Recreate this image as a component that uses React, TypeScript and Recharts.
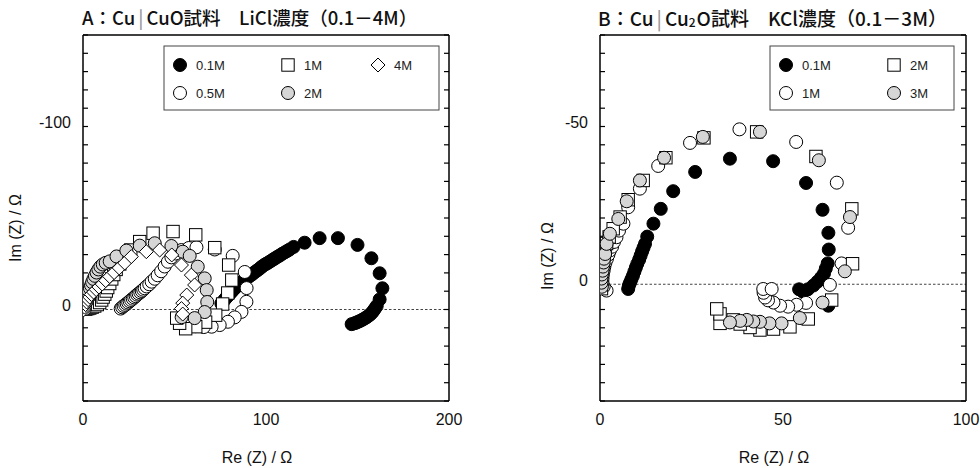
import React from 'react';
import { ScatterChart, Scatter, XAxis, YAxis, ReferenceLine } from 'recharts';

// ---------- Panel A : Cu|CuO, LiCl 0.1-4M  (Re, Im) ----------
const A_01M: [number, number][] = [
  [75.6, -3.3], [76.5, -4.3], [77.4, -5.4], [78.3, -6.5], [79.3, -7.6], [80.3, -8.7], [81.3, -9.8],
  [82.3, -10.9], [83.4, -12.0], [84.5, -13.0], [85.6, -13.9], [86.7, -14.9], [87.8, -15.8], [88.9, -16.7],
  [90.0, -17.5], [91.1, -18.3], [92.2, -19.1], [93.3, -20.0], [94.4, -20.8], [95.5, -21.6], [96.6, -22.4],
  [97.6, -23.3], [98.7, -24.1], [99.8, -24.8], [100.9, -25.4], [102.0, -26.1], [103.1, -26.8], [104.2, -27.5],
  [105.3, -28.2], [106.4, -28.9], [107.5, -29.5], [108.8, -30.4], [110.2, -31.2], [111.6, -32.0],
  [112.9, -32.8], [115.1, -34.2], [121.1, -36.5], [129.3, -39.0], [139.3, -39.0], [150.0, -35.3],
  [157.6, -28.0], [162.1, -19.8], [163.6, -11.6], [162.1, -5.5], [160.5, -1.9], [159.6, -0.6], [158.8, 0.6],
  [158.0, 1.6], [157.2, 2.5], [156.1, 3.4], [155.0, 4.2], [153.9, 4.9], [152.8, 5.5], [151.7, 6.1],
  [150.6, 6.6], [149.5, 7.1], [148.4, 7.5], [146.8, 8.0],
];
const A_05M: [number, number][] = [
  [20.6, -0.5], [21.4, -1.2], [22.2, -1.9], [23.1, -2.5], [23.9, -3.2], [24.7, -3.8], [25.5, -4.5],
  [26.3, -5.2], [27.2, -5.9], [28.0, -6.6], [28.8, -7.3], [29.6, -8.1], [30.4, -8.7], [31.3, -9.4],
  [32.1, -10.1], [32.9, -10.8], [33.7, -11.6], [34.8, -12.6], [36.2, -13.8], [37.5, -15.2], [39.2, -16.8],
  [40.8, -18.7], [42.7, -20.9], [44.6, -23.5], [46.4, -26.1], [48.3, -28.5], [50.7, -30.6], [53.8, -32.5],
  [57.8, -33.6], [62.0, -34.0], [72.0, -32.8], [81.8, -29.3], [88.4, -20.5], [89.4, -11.7], [89.3, -4.2],
  [86.6, 1.3], [82.9, 4.3], [79.2, 6.7], [74.7, 8.5], [70.3, 9.4], [66.0, 9.6], [61.6, 9.1],
];
const A_1M: [number, number][] = [
  [1.5, -0.2], [2.6, -0.5], [3.7, -0.8], [5.0, -1.3], [6.4, -1.9], [7.8, -2.7], [9.1, -3.8], [10.2, -5.2],
  [11.0, -6.8], [11.9, -8.4], [12.7, -10.1], [13.5, -12.0], [14.6, -14.2], [15.7, -16.7], [16.8, -19.1],
  [18.1, -21.9], [20.1, -24.9], [22.8, -28.7], [26.1, -32.5], [31.0, -37.1], [38.3, -41.7], [49.2, -42.6],
  [61.6, -40.8], [72.0, -33.8], [79.6, -24.3], [81.3, -16.1], [79.1, -9.0], [76.3, -3.0], [72.5, 3.1],
  [67.0, 6.9], [61.6, 9.4], [56.1, 10.5], [52.8, 7.5], [51.2, 4.7],
];
const A_2M: [number, number][] = [
  [0.9, -0.2], [1.1, -1.6], [1.3, -3.0], [1.6, -4.3], [1.9, -5.7], [2.3, -7.1], [2.7, -8.4], [3.2, -10.0],
  [3.8, -11.6], [4.4, -13.2], [5.0, -14.9], [5.7, -16.7], [6.5, -18.4], [7.4, -20.2], [8.4, -21.9],
  [9.5, -23.4], [10.8, -24.6], [12.4, -25.5], [14.6, -26.3], [18.3, -29.0], [23.7, -32.2], [31.0, -34.9],
  [39.2, -36.2], [48.3, -34.7], [54.5, -31.6], [58.3, -29.3], [62.7, -23.4], [66.5, -17.0], [67.6, -10.6],
  [67.9, -4.1], [66.5, 1.4], [61.0, 4.7], [53.9, 4.2],
];
const A_4M: [number, number][] = [
  [0.4, 0.1], [0.8, -1.3], [1.4, -2.7], [2.0, -4.1], [2.8, -5.4], [3.7, -6.8], [4.6, -8.2], [5.8, -9.5],
  [7.2, -10.9], [8.7, -12.3], [10.5, -13.9], [12.4, -15.8], [14.6, -18.0], [17.0, -20.2], [19.8, -22.7],
  [22.8, -25.4], [26.4, -28.9], [34.6, -31.6], [41.9, -32.5], [48.5, -29.8], [53.8, -24.3], [59.2, -18.8],
  [61.0, -13.4], [56.7, -7.9], [54.5, -3.5], [53.8, -0.5], [54.5, 2.5],
];

// ---------- Panel B : Cu|Cu2O, KCl 0.1-3M  (Re, Im) ----------
const B_01M: [number, number][] = [
  [7.7, 1.5], [7.9, 0.4], [8.2, -0.5], [8.6, -1.6], [9.0, -2.7], [9.4, -4.0], [9.8, -5.3], [10.2, -6.5],
  [10.7, -7.8], [11.1, -9.1], [11.5, -10.4], [11.9, -11.6], [12.3, -12.8], [12.9, -15.1], [14.6, -19.2],
  [16.6, -23.9], [20.0, -29.5], [26.0, -35.6], [35.5, -39.8], [47.3, -39.0], [56.3, -32.1], [60.8, -23.6],
  [62.4, -16.3], [62.5, -11.0], [62.2, -6.6], [61.7, -5.0], [61.2, -3.4], [60.4, -2.1], [59.4, -0.8],
  [58.3, 0.4], [56.8, 1.6], [55.5, 2.4], [54.4, 1.6], [62.4, 6.8],
];
const B_1M: [number, number][] = [
  [1.8, 2.0], [1.0, 0.8], [0.7, -0.5], [0.7, -1.8], [0.8, -3.1], [1.0, -4.3], [1.2, -5.6], [1.5, -6.9],
  [1.9, -8.1], [2.3, -9.4], [2.7, -10.7], [3.3, -11.9], [3.8, -13.4], [4.5, -14.9], [5.2, -17.0],
  [6.4, -19.2], [7.7, -24.4], [10.9, -30.3], [15.9, -37.5], [24.6, -44.8], [38.1, -49.1], [53.6, -45.1],
  [64.7, -32.2], [67.8, -17.9], [66.0, -6.6], [62.8, 0.2], [56.3, 5.9], [53.7, 6.5], [51.4, 7.1],
  [49.2, 6.8], [47.4, 5.8], [45.9, 5.1], [45.1, 4.2], [44.7, 2.7], [44.6, 1.5], [46.9, 1.5],
];
const B_2M: [number, number][] = [
  [0.4, 1.4], [0.3, 0.1], [0.3, -1.1], [0.3, -2.4], [0.4, -3.7], [0.5, -5.0], [0.7, -6.2], [0.8, -7.8],
  [1.1, -9.4], [1.4, -11.0], [1.8, -12.9], [2.5, -15.0], [3.6, -17.6], [5.5, -21.3], [7.7, -26.8],
  [11.8, -32.9], [18.0, -40.1], [28.4, -46.4], [42.8, -48.3], [59.0, -40.5], [68.8, -23.9], [69.0, -6.5],
  [63.3, 5.0], [56.9, 11.0], [51.9, 13.5], [47.4, 14.2], [43.7, 14.5], [41.0, 13.7], [38.3, 12.6],
  [36.4, 11.3], [32.8, 12.4], [32.8, 9.4], [31.9, 7.8],
];
const B_3M: [number, number][] = [
  [0.5, 0.8], [0.4, -0.5], [0.4, -1.8], [0.5, -3.1], [0.7, -4.3], [0.8, -5.6], [1.0, -6.9], [1.1, -8.1],
  [1.4, -9.6], [1.8, -12.8], [2.7, -16.0], [5.0, -20.7], [7.3, -26.3], [10.9, -32.9], [17.5, -40.1],
  [28.1, -46.7], [43.7, -48.3], [59.8, -39.3], [68.3, -21.3], [66.9, -4.1], [60.8, 5.8], [54.6, 10.7],
  [49.6, 12.4], [46.3, 12.4], [43.7, 11.9], [41.9, 11.8], [40.1, 11.3], [38.3, 11.6], [35.5, 12.1],
];

// axes
const A_X_DOMAIN = [0, 200];
const A_X_TICKS = [0, 100, 200];
const A_Y_DOMAIN = [-150, 50];
const A_Y_TICKS = [-100, 0];
const B_X_DOMAIN = [0, 100];
const B_X_TICKS = [0, 50, 100];
const B_Y_DOMAIN = [-79, 37];
const B_Y_TICKS = [-50, 0];
const MINOR_X = [0, 1, 2, 3, 4, 5, 6, 7, 8, 9, 10];
const MINOR_Y = [0, 1, 2, 3, 4, 5, 6, 7, 8, 9, 10, 11, 12, 13, 14, 15, 16, 17, 18, 19, 20];

const TITLE_A = 'A：Cu';
const TITLE_A2 = 'CuO試料　LiCl濃度（0.1－4M）';
const TITLE_B = 'B：Cu';
const TITLE_B2 = 'Cu';
const TITLE_B3 = 'O試料　KCl濃度（0.1－3M）';
const X_TITLE = 'Re (Z) / Ω';
const Y_TITLE = 'Im (Z) / Ω';

const FONT = '"Liberation Sans", Arial, Helvetica, sans-serif';
const JFONT = '"Noto Sans CJK JP", "Noto Sans", sans-serif';
const GRAY = '#d6d6d6';
const R = 6.5;

const toPts = (arr: [number, number][]) => arr.map(([x, y]) => ({ x, y }));

const circleShape = (fill: string) => (p: any) => (
  <circle cx={p.cx} cy={p.cy} r={R} fill={fill} stroke="#000" strokeWidth={1} />
);
const squareShape = (p: any) => (
  <rect x={p.cx - 6.2} y={p.cy - 6.2} width={12.4} height={12.4} fill="#fff" stroke="#000" strokeWidth={1} />
);
const diamondShape = (p: any) => (
  <polygon
    points={`${p.cx},${p.cy - 7} ${p.cx + 7},${p.cy} ${p.cx},${p.cy + 7} ${p.cx - 7},${p.cy}`}
    fill="#fff"
    stroke="#000"
    strokeWidth={1}
  />
);

const XTick = (p: any) => (
  <text x={p.x} y={p.y + 18} textAnchor="middle" dominantBaseline="central" fontSize={16} fontFamily={FONT} fill="#111">
    {p.payload.value}
  </text>
);
const YTick = (p: any) => (
  <text x={p.x - 12} y={p.y - 4} textAnchor="end" dominantBaseline="central" fontSize={16} fontFamily={FONT} fill="#111">
    {p.payload.value}
  </text>
);

type Series = { key: string; data: [number, number][]; shape: any };

function Panel(props: {
  left: number;
  margin: { top: number; right: number; bottom: number; left: number };
  xDomain: number[];
  xTicks: number[];
  yDomain: number[];
  yTicks: number[];
  series: Series[];
}) {
  const { left, margin, xDomain, xTicks, yDomain, yTicks, series } = props;
  const frame = { stroke: '#000', strokeWidth: 1.5 };
  return (
    <div style={{ position: 'absolute', left, top: 0 }}>
      <ScatterChart width={490} height={468} margin={margin}>
        <XAxis xAxisId="main" type="number" dataKey="x" domain={xDomain} ticks={xTicks} allowDataOverflow
          tickLine={false} tickSize={0} tickMargin={0} axisLine={frame} tick={XTick} height={30} />
        <XAxis xAxisId="mb" orientation="bottom" mirror type="number" domain={[0, 10]} ticks={MINOR_X} allowDataOverflow
          tickSize={5} tickLine={{ stroke: '#000', strokeWidth: 1.2 }} axisLine={false} tickFormatter={() => ''} />
        <XAxis xAxisId="mt" orientation="top" mirror type="number" domain={[0, 10]} ticks={MINOR_X} allowDataOverflow
          tickSize={5} tickLine={{ stroke: '#000', strokeWidth: 1.2 }} axisLine={frame} tickFormatter={() => ''} />
        <YAxis yAxisId="main" type="number" dataKey="y" domain={yDomain} ticks={yTicks} reversed allowDataOverflow
          tickLine={false} tickSize={0} tickMargin={0} width={50} axisLine={frame} tick={YTick} />
        <YAxis yAxisId="ml" orientation="left" mirror type="number" domain={[0, 20]} ticks={MINOR_Y} allowDataOverflow
          tickSize={5} tickLine={{ stroke: '#000', strokeWidth: 1.2 }} axisLine={false} tickFormatter={() => ''} />
        <YAxis yAxisId="mr" orientation="right" mirror type="number" domain={[0, 20]} ticks={MINOR_Y} allowDataOverflow
          tickSize={5} tickLine={{ stroke: '#000', strokeWidth: 1.2 }} axisLine={frame} tickFormatter={() => ''} />
        <ReferenceLine xAxisId="main" yAxisId="main" y={0} stroke="#444" strokeWidth={1.2} strokeDasharray="2.5 2" />
        {series.map((s) => (
          <Scatter key={s.key} name={s.key} xAxisId="main" yAxisId="main" data={toPts(s.data)} shape={s.shape}
            isAnimationActive={false} />
        ))}
      </ScatterChart>
    </div>
  );
}

const LegendItem = ({ x, y, kind, label }: { x: number; y: number; kind: string; label: string }) => {
  let mark: any;
  if (kind === 'black') mark = <circle cx={x} cy={y} r={R} fill="#000" stroke="#000" />;
  else if (kind === 'white') mark = <circle cx={x} cy={y} r={R} fill="#fff" stroke="#000" />;
  else if (kind === 'gray') mark = <circle cx={x} cy={y} r={R} fill={GRAY} stroke="#000" />;
  else if (kind === 'square') mark = <rect x={x - 6.2} y={y - 6.2} width={12.4} height={12.4} fill="#fff" stroke="#000" />;
  else mark = <polygon points={`${x},${y - 7} ${x + 7},${y} ${x},${y + 7} ${x - 7},${y}`} fill="#fff" stroke="#000" />;
  return (
    <g>
      {mark}
      <text x={x + 16} y={y} dominantBaseline="central" fontSize={13} fontFamily={FONT} fill="#222">{label}</text>
    </g>
  );
};

export default function App() {
  const seriesA: Series[] = [
    { key: '0.1M', data: A_01M, shape: circleShape('#000') },
    { key: '0.5M', data: A_05M, shape: circleShape('#fff') },
    { key: '1M', data: A_1M, shape: squareShape },
    { key: '2M', data: A_2M, shape: circleShape(GRAY) },
    { key: '4M', data: A_4M, shape: diamondShape },
  ];
  const seriesB: Series[] = [
    { key: '0.1M', data: B_01M, shape: circleShape('#000') },
    { key: '1M', data: B_1M, shape: circleShape('#fff') },
    { key: '2M', data: B_2M, shape: squareShape },
    { key: '3M', data: B_3M, shape: circleShape(GRAY) },
  ];
  return (
    <div style={{ position: 'absolute', left: 0, top: 0, width: 980, height: 468, background: '#fff', overflow: 'hidden' }}>
      <Panel left={0} margin={{ top: 35, right: 41, bottom: 37, left: 33 }} xDomain={A_X_DOMAIN} xTicks={A_X_TICKS}
        yDomain={A_Y_DOMAIN} yTicks={A_Y_TICKS} series={seriesA} />
      <Panel left={490} margin={{ top: 35, right: 14, bottom: 37, left: 60 }} xDomain={B_X_DOMAIN} xTicks={B_X_TICKS}
        yDomain={B_Y_DOMAIN} yTicks={B_Y_TICKS} series={seriesB} />
      <svg width={980} height={468} style={{ position: 'absolute', left: 0, top: 0, pointerEvents: 'none' }}>
        {/* titles */}
        <text x={82} y={17} dominantBaseline="central" fontSize={18.5} fontWeight={500} fontFamily={JFONT} fill="#111">
          {TITLE_A}<tspan fill="#999" dx={3}>|</tspan><tspan dx={3}>{TITLE_A2}</tspan>
        </text>
        <text x={598} y={17} dominantBaseline="central" fontSize={19} fontWeight={500} fontFamily={JFONT} fill="#111">
          {TITLE_B}<tspan fill="#999" dx={3}>|</tspan><tspan dx={3}>{TITLE_B2}</tspan>
          <tspan fontSize={12} dy={4}>2</tspan><tspan dy={-4} dx={1}>{TITLE_B3}</tspan>
        </text>
        {/* axis titles */}
        <text x={257} y={457} textAnchor="middle" dominantBaseline="central" fontSize={16} fontFamily={FONT} fill="#111">{X_TITLE}</text>
        <text x={774} y={457} textAnchor="middle" dominantBaseline="central" fontSize={16} fontFamily={FONT} fill="#111">{X_TITLE}</text>
        <text x={15} y={228} textAnchor="middle" dominantBaseline="central" fontSize={16} fontFamily={FONT} fill="#111"
          transform="rotate(-90 15 228)">{Y_TITLE}</text>
        <text x={547} y={256} textAnchor="middle" dominantBaseline="central" fontSize={16} fontFamily={FONT} fill="#111"
          transform="rotate(-90 547 256)">{Y_TITLE}</text>
        {/* legend A */}
        <rect x={164} y={46} width={275} height={64} fill="#fff" stroke="#444" strokeWidth={1} />
        <LegendItem x={180} y={65} kind="black" label="0.1M" />
        <LegendItem x={288} y={65} kind="square" label="1M" />
        <LegendItem x={378} y={65} kind="diamond" label="4M" />
        <LegendItem x={180} y={93} kind="white" label="0.5M" />
        <LegendItem x={288} y={93} kind="gray" label="2M" />
        {/* legend B */}
        <rect x={770} y={46} width={184} height={64} fill="#fff" stroke="#444" strokeWidth={1} />
        <LegendItem x={786} y={65} kind="black" label="0.1M" />
        <LegendItem x={894} y={65} kind="square" label="2M" />
        <LegendItem x={786} y={93} kind="white" label="1M" />
        <LegendItem x={894} y={93} kind="gray" label="3M" />
      </svg>
    </div>
  );
}
